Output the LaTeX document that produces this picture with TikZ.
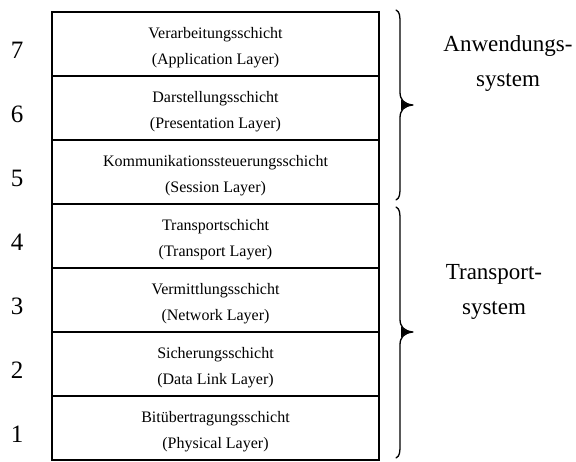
\documentclass[tikz,border=0pt]{standalone}
\usepackage{fontspec}
\setmainfont{Liberation Serif}
\begin{document}
\begin{tikzpicture}[x=1pt,y=-1pt,
  layerbox/.style={draw, line width=1.6pt, minimum width=327pt, minimum height=64pt, inner sep=0pt},
  layertext/.style={anchor=base, inner sep=0pt, font=\fontsize{16}{19}\selectfont},
  layernum/.style={inner sep=0pt, font=\fontsize{25}{28}\selectfont},
  grouptext/.style={align=center, inner sep=0pt, font=\fontsize{23}{35}\selectfont},
  bracepath/.style={line width=1.3pt, line cap=round, line join=round}]
\useasboundingbox (0,0) rectangle (576,462);

% the seven OSI layers, top to bottom
\foreach \n/\de/\en [count=\i from 0] in {
  7/Verarbeitungsschicht/Application Layer,
  6/Darstellungsschicht/Presentation Layer,
  5/Kommunikationssteuerungsschicht/Session Layer,
  4/Transportschicht/Transport Layer,
  3/Vermittlungsschicht/Network Layer,
  2/Sicherungsschicht/Data Link Layer,
  1/Bitübertragungsschicht/Physical Layer}{
  \node[layerbox] (L\n) at (215.5, 44+64*\i) {};
  \node[layertext] (D\n) at ([yshift=-27pt]L\n.north) {\de};
  \node[layertext] (E\n) at ([yshift=-53pt]L\n.north) {(\en)};
  \node[layernum] (N\n) at (17, 50+64*\i) {\n};
}

% upper brace: layers 7-5
\coordinate (ua) at (396,10);
\coordinate (ut) at (413,105);
\coordinate (ub) at (396,200);
\draw[bracepath] (ua) .. controls (400,12) and (400,16) .. (400,24) -- (400,92)
  .. controls (400,100) and (404,104) .. (ut)
  .. controls (404,106) and (400,110) .. (400,118) -- (400,186)
  .. controls (400,194) and (400,198) .. (ub);
\fill (401,99) .. controls (403,103) and (406,104) .. (ut)
  .. controls (406,106) and (403,107) .. (401,111) -- cycle;

% lower brace: layers 4-1
\coordinate (la) at (396,207);
\coordinate (lt) at (413,332);
\coordinate (lb) at (396,458);
\draw[bracepath] (la) .. controls (400,209) and (400,213) .. (400,221) -- (400,319)
  .. controls (400,327) and (404,331) .. (lt)
  .. controls (404,333) and (400,337) .. (400,345) -- (400,444)
  .. controls (400,452) and (400,456) .. (lb);
\fill (401,326) .. controls (403,330) and (406,331) .. (lt)
  .. controls (406,333) and (403,334) .. (401,338) -- cycle;

\node[grouptext, anchor=base] (G1) at (508,87) {Anwendungs-\\system};
\node[grouptext, anchor=base] (G2) at (494,315) {Transport-\\system};
\end{tikzpicture}
\end{document}
